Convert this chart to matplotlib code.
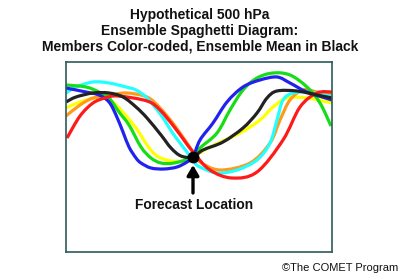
import numpy as np
import matplotlib
matplotlib.use("Agg")
import matplotlib.pyplot as plt
from matplotlib.path import Path
from matplotlib.patches import PathPatch

plt.rcParams['font.family'] = ['Liberation Sans', 'DejaVu Sans']

# Member traces (x = position along the box, y = height, downward-increasing)
yellow_x = [66, 80, 96, 109, 119, 136, 147, 157, 171, 184, 193, 210, 240, 260, 273, 287, 307, 332]
yellow_y = [108, 102, 98, 100, 108, 128, 145, 156, 161, 161, 157, 147, 133, 120, 107, 98, 98, 103]

orange_x = [66, 80, 93, 110, 127, 147, 160, 175, 193, 200, 220, 250, 270, 280, 290, 303, 317, 332]
orange_y = [116, 105, 98, 95, 93, 97, 108, 126, 152, 162, 170, 163, 143, 120, 100, 90, 92, 95]

red_x = [67, 80, 93, 105, 118, 147, 160, 175, 193, 210, 232, 257, 283, 300, 317, 332]
red_y = [138, 116, 103, 98, 96, 101, 110, 128, 152, 170, 178, 172, 140, 107, 93, 92]

green_x = [66, 86, 99, 109, 119, 129, 141, 151, 161, 174, 193, 200, 217, 230, 243, 257, 273, 290, 307, 320, 331]
green_y = [85, 87, 92, 98, 112, 125, 147, 158, 163, 163, 157, 148, 133, 110, 90, 78, 73, 75, 87, 103, 126]

blue_x = [66, 86, 99, 109, 116, 123, 129, 136, 141, 151, 164, 177, 187, 193, 200, 213, 227, 243, 260, 277, 290, 307, 332]
blue_y = [88, 92, 95, 102, 115, 132, 147, 158, 163, 168, 169, 167, 162, 157, 140, 123, 102, 87, 80, 77, 83, 92, 100]

cyan_x = [66, 76, 93, 109, 126, 136, 147, 161, 174, 187, 194, 200, 217, 237, 257, 270, 277, 283, 293, 307, 320, 332]
cyan_y = [93, 87, 82, 83, 87, 90, 98, 115, 135, 152, 162, 167, 173, 170, 160, 143, 120, 100, 93, 92, 94, 97]

mean_x = [66, 76, 93, 109, 123, 136, 147, 161, 171, 181, 193, 203, 223, 243, 257, 267, 277, 297, 317, 332]
mean_y = [102, 97, 93, 93, 97, 107, 118, 135, 148, 156, 157, 150, 142, 128, 113, 98, 91, 91, 95, 98]

location_x = [193]
location_y = [157]

series = [
    (yellow_x, yellow_y, '#ffff00'),
    (orange_x, orange_y, '#ff9a1a'),
    (cyan_x, cyan_y, '#22ffff'),
    (green_x, green_y, '#16dd16'),
    (blue_x, blue_y, '#2222ee'),
    (red_x, red_y, '#ff1a1a'),
    (mean_x, mean_y, '#222222'),
]


def smooth_path(xs, ys):
    """Catmull-Rom through the read points, rendered as cubic Bezier segments."""
    p = np.column_stack([xs, ys]).astype(float)
    verts = [p[0]]
    codes = [Path.MOVETO]
    n = len(p)
    for i in range(n - 1):
        p0 = p[i - 1] if i > 0 else p[i]
        p1 = p[i]
        p2 = p[i + 1]
        p3 = p[i + 2] if i + 2 < n else p[i + 1]
        c1 = p1 + (p2 - p0) / 6.0
        c2 = p2 - (p3 - p1) / 6.0
        verts += [c1, c2, p2]
        codes += [Path.CURVE4] * 3
    return Path(verts, codes)


fig = plt.figure(figsize=(4.0, 2.75), dpi=100)
fig.patch.set_facecolor('white')
ax = fig.add_axes([66 / 400, (275 - 252) / 275, (332 - 66) / 400, (252 - 62) / 275])
ax.set_xlim(66, 332)
ax.set_ylim(252, 62)
ax.set_xticks([])
ax.set_yticks([])
for s in ax.spines.values():
    s.set_color('#2d5a5a')
    s.set_linewidth(1.2)

for xs, ys, c in series:
    ax.add_patch(PathPatch(smooth_path(xs, ys), facecolor='none', edgecolor=c,
                           linewidth=2.3, capstyle='butt', joinstyle='round', zorder=2))

ax.plot(location_x, location_y, 'o', color='black', markersize=7.5, zorder=5)
ax.annotate('', xy=(location_x[0], 165), xytext=(location_x[0], 193),
            arrowprops=dict(arrowstyle='-|>,head_width=0.35,head_length=0.6',
                            color='black', lw=2.4, shrinkA=0, shrinkB=0), zorder=5)
ax.text(location_x[0] + 1, 205, 'Forecast Location', ha='center', va='center',
        fontsize=9.9, fontweight='bold', color='#111111')

fig.text(0.5, 1 - 31 / 275,
         'Hypothetical 500 hPa\nEnsemble Spaghetti Diagram:\nMembers Color-coded, Ensemble Mean in Black',
         ha='center', va='center', fontsize=10, fontweight='bold', linespacing=1.18, color='#111111')
fig.text(398 / 400, 1 - 268 / 275, '\u00a9The COMET Program', ha='right', va='center',
         fontsize=8, color='#111111')

fig.savefig('out.png', dpi=100, facecolor='white')
